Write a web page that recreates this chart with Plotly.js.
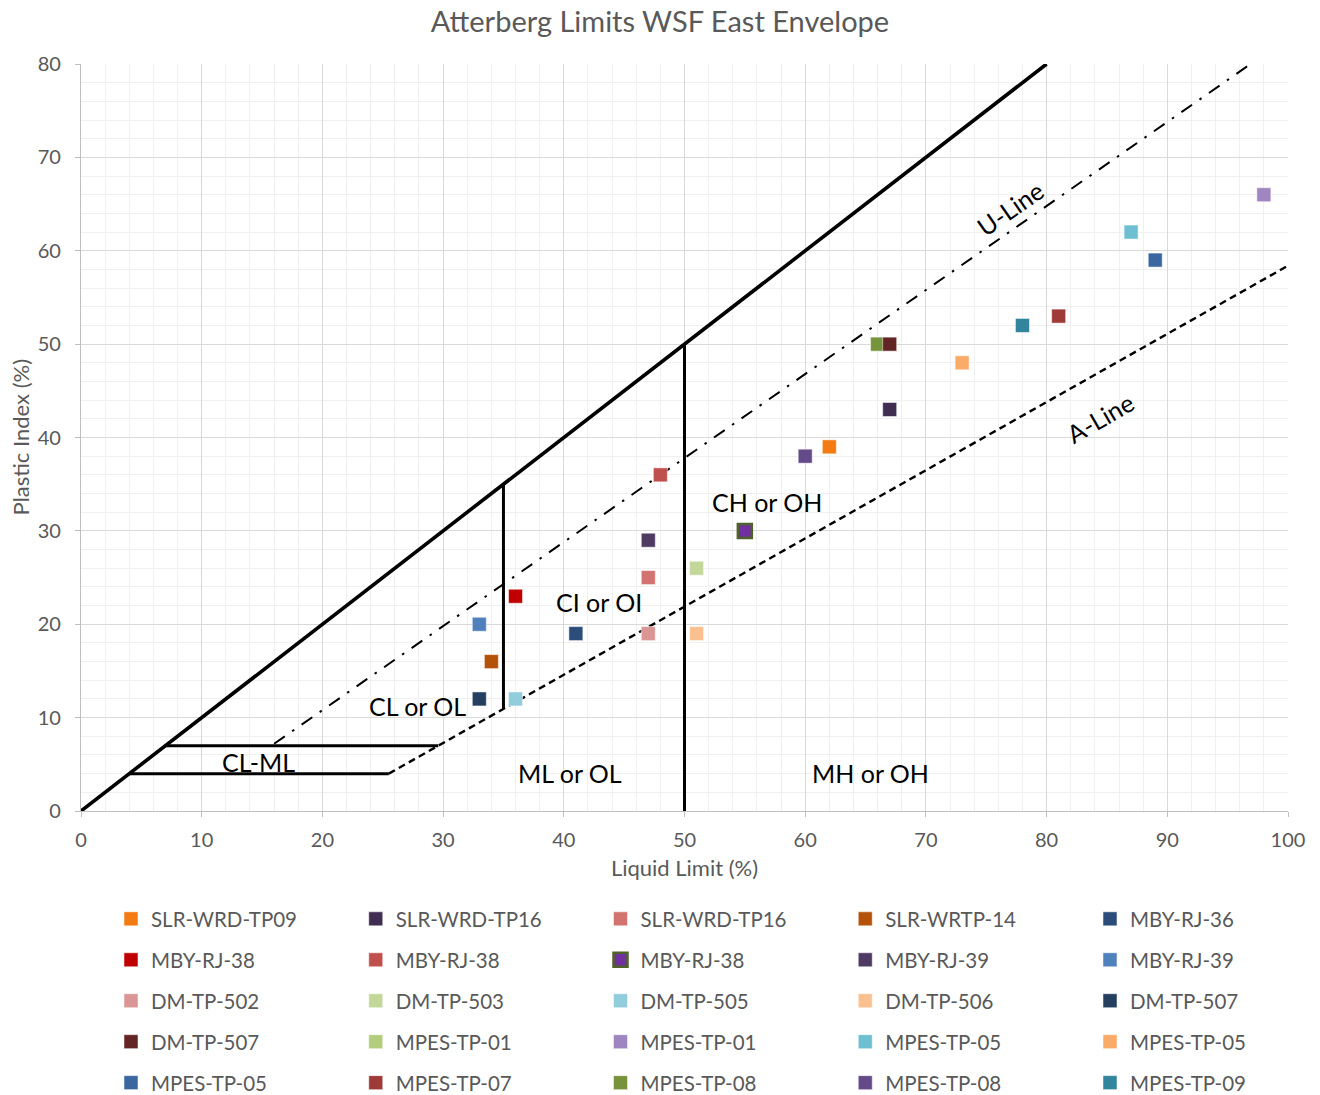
<!DOCTYPE html>
<html>
<head>
<meta charset="utf-8">
<script src="https://cdn.plot.ly/plotly-3.0.1.min.js"></script>
<style>html,body{margin:0;padding:0;background:#fff}#chart{width:1320px;height:1095px}</style>
</head>
<body>
<div id="chart"></div>
<script>
// ---- Sample data (Liquid Limit %, Plastic Index %) ----
const sampleNames = [
  "SLR-WRD-TP09","SLR-WRD-TP16","SLR-WRD-TP16","SLR-WRTP-14","MBY-RJ-36",
  "MBY-RJ-38","MBY-RJ-38","MBY-RJ-38","MBY-RJ-39","MBY-RJ-39",
  "DM-TP-502","DM-TP-503","DM-TP-505","DM-TP-506","DM-TP-507",
  "DM-TP-507","MPES-TP-01","MPES-TP-01","MPES-TP-05","MPES-TP-05",
  "MPES-TP-05","MPES-TP-07","MPES-TP-08","MPES-TP-08","MPES-TP-09"
];
const liquidLimit = [62,67,47,34,41, 36,48,55,47,33, 47,51,36,51,33, 67,66,98,87,73, 89,81,66,60,78];
const plasticIndex = [39,43,25,16,19, 23,36,30,29,20, 19,26,12,19,12, 50,50,66,62,48, 59,53,50,38,52];
const sampleColors = [
  "#F47A12","#3F2D52","#D27370","#B5520A","#2C4D7A",
  "#C00000","#C0504D","#7030A0","#4E3A63","#4F81BD",
  "#DA9694","#C4D79B","#92CDDC","#FAC090","#253F60",
  "#632523","#B3CD7D","#9F86C0","#6FBFD3","#F9AB67",
  "#3B67A0","#9E3A38","#77933C","#654A8A","#31859C"
];
const sampleBorders = [
  null,null,null,null,null,
  null,null,"#4F6228",null,null,
  null,null,null,null,null,
  null,null,null,null,null,
  null,null,null,null,null
];

// ---- Plasticity chart boundary lines ----
const upperLimitX = [0, 80];      const upperLimitY = [0, 80];
const uLineX = [16, 96.9];        const uLineY = [7.2, 80];
const aLineX = [25.5, 100];       const aLineY = [4, 58.4];
const clml4X = [4, 25.5];         const clml4Y = [4, 4];
const clml7X = [7, 29.6];         const clml7Y = [7, 7];
const ll35X = [35, 35];           const ll35Y = [10.95, 35];
const ll50X = [50, 50];           const ll50Y = [0, 50];

// ---- Zone labels ----
const zoneLabels = ["CH or OH","CI or OI","CL or OL","CL-ML","ML or OL","MH or OH","U-Line","A-Line"];
const zoneX = [56.8, 42.9, 27.9, 14.7, 40.5, 65.4, 77.0, 84.4];
const zoneY = [33.1, 22.4, 11.2, 5.3, 4.1, 4.1, 64.6, 42.1];
const zoneAngle = [0,0,0,0,0,0,-35,-30];

const FONT = "Lato, 'Open Sans', sans-serif";
const traces = [];
function lineTrace(x, y, width, dash) {
  return {x:x, y:y, type:'scatter', mode:'lines', showlegend:false, hoverinfo:'skip',
          line:{color:'#000', width:width, dash:dash}};
}
traces.push(lineTrace(upperLimitX, upperLimitY, 3.6, 'solid'));
traces.push(lineTrace(uLineX, uLineY, 2, '13px,9px,2.5px,9px'));
traces.push(lineTrace(aLineX, aLineY, 2.4, '7px,4.5px'));
traces.push(lineTrace(clml4X, clml4Y, 3, 'solid'));
traces.push(lineTrace(clml7X, clml7Y, 3, 'solid'));
traces.push(lineTrace(ll35X, ll35Y, 3, 'solid'));
traces.push(lineTrace(ll50X, ll50Y, 3, 'solid'));

const NCOL = 5;
const legendIds = ['legend','legend2','legend3','legend4','legend5'];
const sampleTraces = sampleNames.map((n, i) => ({
  x:[liquidLimit[i]], y:[plasticIndex[i]], name:n, type:'scatter', mode:'markers',
  legend: legendIds[i % NCOL], legendgroup: 'g' + i, legendrank: i,
  marker:{symbol:'square', size:14, color:sampleColors[i],
          line: sampleBorders[i] ? {color:sampleBorders[i], width:2.5} : {color:'rgba(255,255,255,0.5)', width:1}}
}));
// draw order: DM-TP-507 (dark red) sits above MPES-TP-08 (green)
const drawOrder = sampleTraces.map((t,i)=>i).filter(i=>i!==15).concat([15]);
drawOrder.forEach(i => traces.push(sampleTraces[i]));

const annotations = zoneLabels.map((t, i) => ({
  x: zoneX[i], y: zoneY[i], xref:'x', yref:'y', text:t, showarrow:false,
  textangle: zoneAngle[i], font:{family:FONT, size:25, color:'#000'}
}));
// y-axis title (drawn as annotation so it stays beside the axis)
annotations.push({x:(20-81)/1207, y:0.5, xref:'paper', yref:'paper', text:'Plastic Index (%)',
  showarrow:false, textangle:-90, xanchor:'center', yanchor:'middle',
  font:{family:FONT, size:22, color:'#595959'}});

const layout = {
  width:1320, height:1095,
  margin:{l:81, r:32, t:64, b:284, autoexpand:false},
  paper_bgcolor:'#fff', plot_bgcolor:'#fff',
  font:{family:FONT, color:'#595959'},
  title:{text:'Atterberg Limits WSF East Envelope', x:0.5, xanchor:'center', y:1-22/1095, yanchor:'middle', yref:'container',
         font:{family:FONT, size:29, color:'#595959'}},
  xaxis:{range:[0,100], dtick:10, tick0:0, showgrid:true, gridcolor:'#d9d9d9', gridwidth:1.3,
         minor:{dtick:2, showgrid:true, gridcolor:'#f0f0f0', gridwidth:1.3},
         showline:true, linecolor:'#bfbfbf', linewidth:1.3, ticks:'outside', ticklen:5, tickcolor:'#bfbfbf',
         zeroline:false, tickfont:{size:20, color:'#595959'}, ticklabelstandoff:6,
         title:{text:'Liquid Limit (%)', font:{size:22, color:'#595959'}, standoff:10}},
  yaxis:{range:[0,80], dtick:10, tick0:0, showgrid:true, gridcolor:'#d9d9d9', gridwidth:1.3,
         minor:{dtick:2, showgrid:true, gridcolor:'#f0f0f0', gridwidth:1.3},
         showline:true, linecolor:'#bfbfbf', linewidth:1.3, ticks:'outside', ticklen:5, tickcolor:'#bfbfbf',
         zeroline:false, tickfont:{size:20, color:'#595959'}, ticklabelstandoff:10},
  annotations: annotations,
  showlegend:true
};
legendIds.forEach((id, c) => {
  layout[id] = {orientation:'v', xref:'container', yref:'container', x:(111 + 244.75*c)/1320, xanchor:'left',
    y:1-899/1095, yanchor:'top', traceorder:'grouped', tracegroupgap:11.3,
    font:{family:FONT, size:20.5, color:'#595959'}, bgcolor:'rgba(0,0,0,0)', itemclick:false};
});

Plotly.newPlot('chart', traces, layout, {displayModeBar:false, responsive:false});
</script>
</body>
</html>
